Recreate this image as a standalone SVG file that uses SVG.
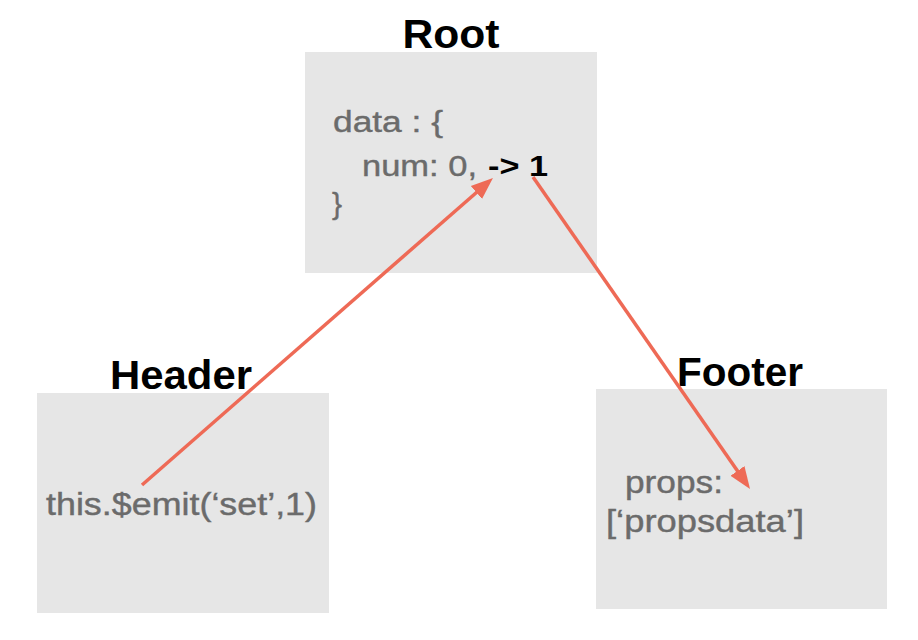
<svg xmlns="http://www.w3.org/2000/svg" width="918" height="640" viewBox="0 0 918 640">
  <style>
    .box { fill: #e6e6e6; }
    .title { font-family: "Liberation Sans", Arial, sans-serif; font-weight: bold; font-size: 40px; fill: #000; text-anchor: middle; }
    .body { font-family: "Liberation Sans", Arial, sans-serif; fill: #6b6b6b; stroke: #6b6b6b; stroke-width: 0.4px; }
    .hl { font-family: "Liberation Sans", Arial, sans-serif; font-weight: bold; fill: #000; }
    .conn { stroke: #ee6a56; stroke-width: 3.5; fill: none; }
  </style>
  <defs>
    <marker id="arrow" markerUnits="userSpaceOnUse" markerWidth="24" markerHeight="20" viewBox="0 -10 24 20" refX="2" refY="0" orient="auto">
      <path d="M0,-8.5 L22,0 L0,8.5 z" fill="#ee6a56"/>
    </marker>
  </defs>
  <rect width="918" height="640" fill="#ffffff"/>

  <g id="root">
    <rect class="box" x="305" y="52" width="292" height="221"/>
    <text class="title" x="451" y="48" textLength="97" lengthAdjust="spacingAndGlyphs">Root</text>
    <text class="body" x="333" y="131.5" font-size="30" textLength="110" lengthAdjust="spacingAndGlyphs">data : {</text>
    <text class="body" x="362" y="175.5" font-size="30" textLength="115" lengthAdjust="spacingAndGlyphs">num: 0,</text>
    <text class="hl" x="488" y="175.5" font-size="30" textLength="60" lengthAdjust="spacingAndGlyphs">-&gt; 1</text>
    <text class="body" x="332" y="214" font-size="30">}</text>
  </g>

  <g id="header">
    <rect class="box" x="37" y="393" width="292" height="220"/>
    <text class="title" x="181" y="389" textLength="142" lengthAdjust="spacingAndGlyphs">Header</text>
    <text class="body" x="46" y="515" font-size="31" textLength="271" lengthAdjust="spacingAndGlyphs">this.$emit(‘set’,1)</text>
  </g>

  <g id="footer">
    <rect class="box" x="596" y="389" width="291" height="220"/>
    <text class="title" x="740" y="385.5" textLength="126" lengthAdjust="spacingAndGlyphs">Footer</text>
    <text class="body" x="625" y="493" font-size="31" textLength="98" lengthAdjust="spacingAndGlyphs">props:</text>
    <text class="body" x="606" y="532" font-size="31" textLength="198" lengthAdjust="spacingAndGlyphs">[‘propsdata’]</text>
  </g>

  <g id="connectors">
    <line class="conn" x1="142" y1="485" x2="477.9" y2="191.2" marker-end="url(#arrow)"/>
    <line class="conn" x1="533" y1="177" x2="738.6" y2="472.6" marker-end="url(#arrow)"/>
  </g>
</svg>
